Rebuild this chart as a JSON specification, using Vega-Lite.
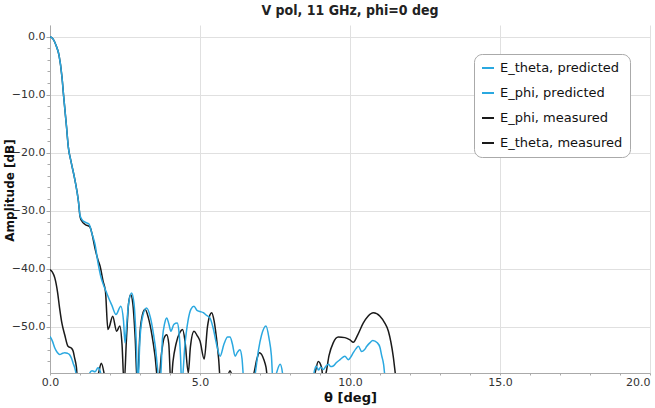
{
  "$schema": "https://vega.github.io/schema/vega-lite/v6.json",
  "autosize": "none",
  "padding": {"left": 50, "top": 25, "right": 5, "bottom": 35},
  "width": 600,
  "height": 348,
  "background": "white",
  "title": {"text": "V pol, 11 GHz, phi=0 deg", "fontSize": 14, "fontWeight": "bold", "font": "DejaVu Sans Condensed", "color": "#222", "anchor": "middle", "offset": 7},
  "config": {
    "font": "DejaVu Sans",
    "view": {"stroke": null}
  },
  "datasets": {
    "curves": [
      {"s": "E_theta, measured", "x": 0, "y": 0}, {"s": "E_theta, measured", "x": 0.1, "y": -0.4}, {"s": "E_theta, measured", "x": 0.2, "y": -1.5}, {"s": "E_theta, measured", "x": 0.3, "y": -3.2}, {"s": "E_theta, measured", "x": 0.4, "y": -7}, {"s": "E_theta, measured", "x": 0.45, "y": -10}, {"s": "E_theta, measured", "x": 0.55, "y": -15.5}, {"s": "E_theta, measured", "x": 0.61, "y": -19}, {"s": "E_theta, measured", "x": 0.7, "y": -21.5}, {"s": "E_theta, measured", "x": 0.83, "y": -24.7}, {"s": "E_theta, measured", "x": 0.95, "y": -28.5}, {"s": "E_theta, measured", "x": 1.0, "y": -31}, {"s": "E_theta, measured", "x": 1.06, "y": -31.8}, {"s": "E_theta, measured", "x": 1.17, "y": -32.4}, {"s": "E_theta, measured", "x": 1.33, "y": -32.8}, {"s": "E_theta, measured", "x": 1.4, "y": -34}, {"s": "E_theta, measured", "x": 1.5, "y": -36.5}, {"s": "E_theta, measured", "x": 1.6, "y": -38.5}, {"s": "E_theta, measured", "x": 1.67, "y": -39.6}, {"s": "E_theta, measured", "x": 1.77, "y": -42.2}, {"s": "E_theta, measured", "x": 1.85, "y": -44}, {"s": "E_theta, measured", "x": 1.93, "y": -50.5}, {"s": "E_theta, measured", "x": 1.98, "y": -50}, {"s": "E_theta, measured", "x": 2.09, "y": -48.2}, {"s": "E_theta, measured", "x": 2.22, "y": -50.8}, {"s": "E_theta, measured", "x": 2.33, "y": -49.9}, {"s": "E_theta, measured", "x": 2.4, "y": -53}, {"s": "E_theta, measured", "x": 2.47, "y": -60}, {"s": "E_theta, measured", "x": 2.55, "y": -52}, {"s": "E_theta, measured", "x": 2.62, "y": -46}, {"s": "E_theta, measured", "x": 2.69, "y": -44.5}, {"s": "E_theta, measured", "x": 2.76, "y": -46}, {"s": "E_theta, measured", "x": 2.84, "y": -52}, {"s": "E_theta, measured", "x": 2.91, "y": -60}, {"s": "E_theta, measured", "x": 3.0, "y": -51}, {"s": "E_theta, measured", "x": 3.08, "y": -48}, {"s": "E_theta, measured", "x": 3.17, "y": -47}, {"s": "E_theta, measured", "x": 3.28, "y": -48.5}, {"s": "E_theta, measured", "x": 3.4, "y": -51.5}, {"s": "E_theta, measured", "x": 3.5, "y": -55}, {"s": "E_theta, measured", "x": 3.61, "y": -60}, {"s": "E_theta, measured", "x": 3.72, "y": -54.5}, {"s": "E_theta, measured", "x": 3.8, "y": -52}, {"s": "E_theta, measured", "x": 3.89, "y": -51.4}, {"s": "E_theta, measured", "x": 3.96, "y": -53}, {"s": "E_theta, measured", "x": 4.03, "y": -60}, {"s": "E_theta, measured", "x": 4.1, "y": -56}, {"s": "E_theta, measured", "x": 4.2, "y": -53}, {"s": "E_theta, measured", "x": 4.33, "y": -51}, {"s": "E_theta, measured", "x": 4.42, "y": -50.5}, {"s": "E_theta, measured", "x": 4.5, "y": -52.5}, {"s": "E_theta, measured", "x": 4.61, "y": -58}, {"s": "E_theta, measured", "x": 4.68, "y": -53.5}, {"s": "E_theta, measured", "x": 4.8, "y": -50.8}, {"s": "E_theta, measured", "x": 4.9, "y": -51.5}, {"s": "E_theta, measured", "x": 5.0, "y": -52.5}, {"s": "E_theta, measured", "x": 5.14, "y": -55.6}, {"s": "E_theta, measured", "x": 5.25, "y": -50}, {"s": "E_theta, measured", "x": 5.33, "y": -48}, {"s": "E_theta, measured", "x": 5.39, "y": -47.6}, {"s": "E_theta, measured", "x": 5.47, "y": -49}, {"s": "E_theta, measured", "x": 5.55, "y": -52}, {"s": "E_theta, measured", "x": 5.62, "y": -55.5}, {"s": "E_theta, measured", "x": 5.69, "y": -60}, {"s": "E_theta, measured", "x": 5.9, "y": -59}, {"s": "E_theta, measured", "x": 6.0, "y": -57.6}, {"s": "E_theta, measured", "x": 6.1, "y": -59}, {"s": "E_theta, measured", "x": 6.5, "y": -62}, {"s": "E_theta, measured", "x": 6.8, "y": -58}, {"s": "E_theta, measured", "x": 6.9, "y": -55.5}, {"s": "E_theta, measured", "x": 6.98, "y": -54.5}, {"s": "E_theta, measured", "x": 7.13, "y": -55.7}, {"s": "E_theta, measured", "x": 7.2, "y": -57}, {"s": "E_theta, measured", "x": 7.28, "y": -60}, {"s": "E_theta, measured", "x": 8.0, "y": -62}, {"s": "E_theta, measured", "x": 8.83, "y": -58}, {"s": "E_theta, measured", "x": 8.94, "y": -56}, {"s": "E_theta, measured", "x": 9.05, "y": -57}, {"s": "E_theta, measured", "x": 9.11, "y": -59}, {"s": "E_theta, measured", "x": 9.2, "y": -58}, {"s": "E_theta, measured", "x": 9.3, "y": -55}, {"s": "E_theta, measured", "x": 9.44, "y": -52.8}, {"s": "E_theta, measured", "x": 9.61, "y": -51.8}, {"s": "E_theta, measured", "x": 9.83, "y": -51.9}, {"s": "E_theta, measured", "x": 10.0, "y": -52.3}, {"s": "E_theta, measured", "x": 10.11, "y": -52.7}, {"s": "E_theta, measured", "x": 10.25, "y": -51.5}, {"s": "E_theta, measured", "x": 10.44, "y": -49.4}, {"s": "E_theta, measured", "x": 10.6, "y": -48.2}, {"s": "E_theta, measured", "x": 10.78, "y": -47.6}, {"s": "E_theta, measured", "x": 11.0, "y": -48.2}, {"s": "E_theta, measured", "x": 11.15, "y": -49.3}, {"s": "E_theta, measured", "x": 11.28, "y": -50.8}, {"s": "E_theta, measured", "x": 11.44, "y": -55.1}, {"s": "E_theta, measured", "x": 11.53, "y": -59}, {"s": "E_theta, measured", "x": 11.6, "y": -62},

      {"s": "E_theta, predicted", "x": 0, "y": 0}, {"s": "E_theta, predicted", "x": 0.1, "y": -0.4}, {"s": "E_theta, predicted", "x": 0.2, "y": -1.5}, {"s": "E_theta, predicted", "x": 0.3, "y": -3.2}, {"s": "E_theta, predicted", "x": 0.4, "y": -7}, {"s": "E_theta, predicted", "x": 0.45, "y": -10}, {"s": "E_theta, predicted", "x": 0.55, "y": -15.5}, {"s": "E_theta, predicted", "x": 0.61, "y": -19}, {"s": "E_theta, predicted", "x": 0.7, "y": -21.5}, {"s": "E_theta, predicted", "x": 0.83, "y": -24.7}, {"s": "E_theta, predicted", "x": 0.95, "y": -28.5}, {"s": "E_theta, predicted", "x": 1.0, "y": -30.8}, {"s": "E_theta, predicted", "x": 1.06, "y": -31.5}, {"s": "E_theta, predicted", "x": 1.17, "y": -32}, {"s": "E_theta, predicted", "x": 1.3, "y": -32.3}, {"s": "E_theta, predicted", "x": 1.4, "y": -34}, {"s": "E_theta, predicted", "x": 1.5, "y": -35.8}, {"s": "E_theta, predicted", "x": 1.6, "y": -39}, {"s": "E_theta, predicted", "x": 1.7, "y": -41.5}, {"s": "E_theta, predicted", "x": 1.82, "y": -43.3}, {"s": "E_theta, predicted", "x": 1.89, "y": -44.2}, {"s": "E_theta, predicted", "x": 1.99, "y": -45.5}, {"s": "E_theta, predicted", "x": 2.06, "y": -46.3}, {"s": "E_theta, predicted", "x": 2.2, "y": -47.9}, {"s": "E_theta, predicted", "x": 2.36, "y": -46.5}, {"s": "E_theta, predicted", "x": 2.45, "y": -49}, {"s": "E_theta, predicted", "x": 2.5, "y": -52.8}, {"s": "E_theta, predicted", "x": 2.55, "y": -50}, {"s": "E_theta, predicted", "x": 2.62, "y": -46}, {"s": "E_theta, predicted", "x": 2.72, "y": -44.2}, {"s": "E_theta, predicted", "x": 2.8, "y": -46}, {"s": "E_theta, predicted", "x": 2.87, "y": -52}, {"s": "E_theta, predicted", "x": 2.93, "y": -60}, {"s": "E_theta, predicted", "x": 3.0, "y": -52}, {"s": "E_theta, predicted", "x": 3.1, "y": -48}, {"s": "E_theta, predicted", "x": 3.22, "y": -46.8}, {"s": "E_theta, predicted", "x": 3.35, "y": -48.5}, {"s": "E_theta, predicted", "x": 3.5, "y": -53}, {"s": "E_theta, predicted", "x": 3.67, "y": -60}, {"s": "E_theta, predicted", "x": 3.75, "y": -52}, {"s": "E_theta, predicted", "x": 3.82, "y": -49.5}, {"s": "E_theta, predicted", "x": 3.89, "y": -48.5}, {"s": "E_theta, predicted", "x": 3.96, "y": -49.5}, {"s": "E_theta, predicted", "x": 4.03, "y": -50.8}, {"s": "E_theta, predicted", "x": 4.13, "y": -49.6}, {"s": "E_theta, predicted", "x": 4.24, "y": -49.4}, {"s": "E_theta, predicted", "x": 4.3, "y": -51}, {"s": "E_theta, predicted", "x": 4.35, "y": -55}, {"s": "E_theta, predicted", "x": 4.39, "y": -60}, {"s": "E_theta, predicted", "x": 4.5, "y": -53}, {"s": "E_theta, predicted", "x": 4.6, "y": -49}, {"s": "E_theta, predicted", "x": 4.7, "y": -47}, {"s": "E_theta, predicted", "x": 4.8, "y": -46.5}, {"s": "E_theta, predicted", "x": 4.9, "y": -47.2}, {"s": "E_theta, predicted", "x": 5.0, "y": -47.4}, {"s": "E_theta, predicted", "x": 5.11, "y": -47.6}, {"s": "E_theta, predicted", "x": 5.2, "y": -48}, {"s": "E_theta, predicted", "x": 5.33, "y": -48.5}, {"s": "E_theta, predicted", "x": 5.45, "y": -50.5}, {"s": "E_theta, predicted", "x": 5.55, "y": -53}, {"s": "E_theta, predicted", "x": 5.67, "y": -55.1}, {"s": "E_theta, predicted", "x": 5.8, "y": -53}, {"s": "E_theta, predicted", "x": 5.92, "y": -51.8}, {"s": "E_theta, predicted", "x": 6.0, "y": -51.8}, {"s": "E_theta, predicted", "x": 6.08, "y": -53}, {"s": "E_theta, predicted", "x": 6.17, "y": -55.1}, {"s": "E_theta, predicted", "x": 6.25, "y": -54.4}, {"s": "E_theta, predicted", "x": 6.33, "y": -54}, {"s": "E_theta, predicted", "x": 6.4, "y": -55.5}, {"s": "E_theta, predicted", "x": 6.47, "y": -60}, {"s": "E_theta, predicted", "x": 6.65, "y": -62}, {"s": "E_theta, predicted", "x": 6.83, "y": -58.5}, {"s": "E_theta, predicted", "x": 6.95, "y": -54}, {"s": "E_theta, predicted", "x": 7.05, "y": -51.5}, {"s": "E_theta, predicted", "x": 7.2, "y": -49.9}, {"s": "E_theta, predicted", "x": 7.3, "y": -52}, {"s": "E_theta, predicted", "x": 7.38, "y": -55}, {"s": "E_theta, predicted", "x": 7.44, "y": -60}, {"s": "E_theta, predicted", "x": 7.55, "y": -58}, {"s": "E_theta, predicted", "x": 7.67, "y": -56.5}, {"s": "E_theta, predicted", "x": 7.75, "y": -58}, {"s": "E_theta, predicted", "x": 7.8, "y": -62}, {"s": "E_theta, predicted", "x": 8.7, "y": -62}, {"s": "E_theta, predicted", "x": 8.8, "y": -58}, {"s": "E_theta, predicted", "x": 8.87, "y": -56.8}, {"s": "E_theta, predicted", "x": 8.95, "y": -57.5}, {"s": "E_theta, predicted", "x": 9.02, "y": -57}, {"s": "E_theta, predicted", "x": 9.11, "y": -57.4}, {"s": "E_theta, predicted", "x": 9.2, "y": -56.8}, {"s": "E_theta, predicted", "x": 9.28, "y": -56.5}, {"s": "E_theta, predicted", "x": 9.36, "y": -56.9}, {"s": "E_theta, predicted", "x": 9.44, "y": -56.8}, {"s": "E_theta, predicted", "x": 9.55, "y": -56.2}, {"s": "E_theta, predicted", "x": 9.67, "y": -55.7}, {"s": "E_theta, predicted", "x": 9.83, "y": -55.1}, {"s": "E_theta, predicted", "x": 9.94, "y": -55.7}, {"s": "E_theta, predicted", "x": 10.02, "y": -55.3}, {"s": "E_theta, predicted", "x": 10.11, "y": -54.5}, {"s": "E_theta, predicted", "x": 10.2, "y": -53.8}, {"s": "E_theta, predicted", "x": 10.28, "y": -53.4}, {"s": "E_theta, predicted", "x": 10.39, "y": -54.3}, {"s": "E_theta, predicted", "x": 10.48, "y": -54}, {"s": "E_theta, predicted", "x": 10.56, "y": -53.4}, {"s": "E_theta, predicted", "x": 10.66, "y": -52.8}, {"s": "E_theta, predicted", "x": 10.76, "y": -52.4}, {"s": "E_theta, predicted", "x": 10.91, "y": -52.8}, {"s": "E_theta, predicted", "x": 11.0, "y": -53.6}, {"s": "E_theta, predicted", "x": 11.06, "y": -55.1}, {"s": "E_theta, predicted", "x": 11.12, "y": -56.5}, {"s": "E_theta, predicted", "x": 11.17, "y": -59}, {"s": "E_theta, predicted", "x": 11.25, "y": -62},

      {"s": "E_phi, measured", "x": 0, "y": -40.2}, {"s": "E_phi, measured", "x": 0.08, "y": -40.6}, {"s": "E_phi, measured", "x": 0.16, "y": -41.6}, {"s": "E_phi, measured", "x": 0.25, "y": -44}, {"s": "E_phi, measured", "x": 0.32, "y": -46.8}, {"s": "E_phi, measured", "x": 0.4, "y": -49.5}, {"s": "E_phi, measured", "x": 0.49, "y": -51.4}, {"s": "E_phi, measured", "x": 0.6, "y": -53.4}, {"s": "E_phi, measured", "x": 0.71, "y": -53.7}, {"s": "E_phi, measured", "x": 0.77, "y": -54.2}, {"s": "E_phi, measured", "x": 0.82, "y": -55.4}, {"s": "E_phi, measured", "x": 0.88, "y": -57}, {"s": "E_phi, measured", "x": 0.93, "y": -60}, {"s": "E_phi, measured", "x": 1.2, "y": -62}, {"s": "E_phi, measured", "x": 1.62, "y": -58}, {"s": "E_phi, measured", "x": 1.71, "y": -56.3}, {"s": "E_phi, measured", "x": 1.8, "y": -58}, {"s": "E_phi, measured", "x": 1.9, "y": -62},

      {"s": "E_phi, predicted", "x": 0, "y": -51.7}, {"s": "E_phi, predicted", "x": 0.08, "y": -52.5}, {"s": "E_phi, predicted", "x": 0.16, "y": -53.7}, {"s": "E_phi, predicted", "x": 0.25, "y": -54.5}, {"s": "E_phi, predicted", "x": 0.32, "y": -54.8}, {"s": "E_phi, predicted", "x": 0.42, "y": -54.6}, {"s": "E_phi, predicted", "x": 0.49, "y": -54.5}, {"s": "E_phi, predicted", "x": 0.58, "y": -54.6}, {"s": "E_phi, predicted", "x": 0.66, "y": -54.9}, {"s": "E_phi, predicted", "x": 0.72, "y": -55.5}, {"s": "E_phi, predicted", "x": 0.77, "y": -56.3}, {"s": "E_phi, predicted", "x": 0.83, "y": -57.2}, {"s": "E_phi, predicted", "x": 0.88, "y": -58.5}, {"s": "E_phi, predicted", "x": 0.95, "y": -62}, {"s": "E_phi, predicted", "x": 1.2, "y": -62}, {"s": "E_phi, predicted", "x": 1.3, "y": -58.3}, {"s": "E_phi, predicted", "x": 1.4, "y": -57.6}, {"s": "E_phi, predicted", "x": 1.5, "y": -57.8}, {"s": "E_phi, predicted", "x": 1.6, "y": -57.1}, {"s": "E_phi, predicted", "x": 1.68, "y": -57.8}, {"s": "E_phi, predicted", "x": 1.75, "y": -62}
    ]
  },
  "data": {"name": "curves"},
  "mark": {"type": "line", "clip": true, "interpolate": "monotone", "strokeWidth": 1.5},
  "encoding": {
    "x": {
      "field": "x", "type": "quantitative",
      "scale": {"domain": [0, 20], "nice": false, "zero": false},
      "axis": {
        "title": "θ [deg]", "titleFontSize": 13, "titleFontWeight": "bold", "titleColor": "#111",
        "titleX": 300, "titleY": 24, "titleAlign": "center", "titleBaseline": "middle",
        "values": [0,1,2,3,4,5,6,7,8,9,10,11,12,13,14,15,16,17,18,19,20],
        "labelExpr": "datum.value % 5 === 0 ? format(datum.value, '.1f') : ''",
        "labelOverlap": false, "labelFontSize": 11, "labelColor": "#333", "labelPadding": 1,
        "labelFlush": false,
        "labelAlign": {"condition": {"test": "datum.value === 20", "value": "right"}, "value": "center"},
        "domainColor": "#aaa", "tickColor": "#aaa",
        "tickSize": 2,
        "gridColor": "#e0e0e0",
        "gridOpacity": {"condition": {"test": "datum.value % 5 === 0", "value": 1}, "value": 0}
      }
    },
    "y": {
      "field": "y", "type": "quantitative",
      "scale": {"domain": [-58, 2], "nice": false, "zero": false},
      "axis": {
        "title": "Amplitude [dB]", "titleFontSize": 12, "titleFontWeight": "bold", "titleColor": "#111",
        "titleX": -41, "titleY": 165, "titleAngle": -90, "titleAlign": "center", "titleBaseline": "middle",
        "values": [0,-2,-4,-6,-8,-10,-12,-14,-16,-18,-20,-22,-24,-26,-28,-30,-32,-34,-36,-38,-40,-42,-44,-46,-48,-50,-52,-54,-56],
        "labelExpr": "datum.value % 10 === 0 ? format(datum.value, '.1f') : ''",
        "labelOverlap": false, "labelFontSize": 11, "labelColor": "#333", "labelPadding": 1,
        "domainColor": "#aaa", "tickColor": "#aaa",
        "tickSize": {"condition": {"test": "datum.value % 10 === 0", "value": 4}, "value": 3},
        "gridColor": "#e0e0e0",
        "gridOpacity": {"condition": {"test": "datum.value % 10 === 0", "value": 1}, "value": 0}
      }
    },
    "color": {
      "field": "s", "type": "nominal",
      "scale": {
        "domain": ["E_theta, predicted", "E_phi, predicted", "E_phi, measured", "E_theta, measured"],
        "range": ["#2aa8e0", "#2aa8e0", "#1a1a1a", "#1a1a1a"]
      },
      "legend": {
        "title": null, "orient": "none", "legendX": 424, "legendY": 29,
        "symbolType": "stroke", "symbolSize": 144, "symbolStrokeWidth": 2,
        "labelFontSize": 13, "labelColor": "#111", "labelLimit": 300, "labelOffset": 5,
        "rowPadding": 11, "padding": 7,
        "strokeColor": "#aaa", "fillColor": "white", "cornerRadius": 8
      }
    },
    "order": {"field": "x", "type": "quantitative"}
  }
}
